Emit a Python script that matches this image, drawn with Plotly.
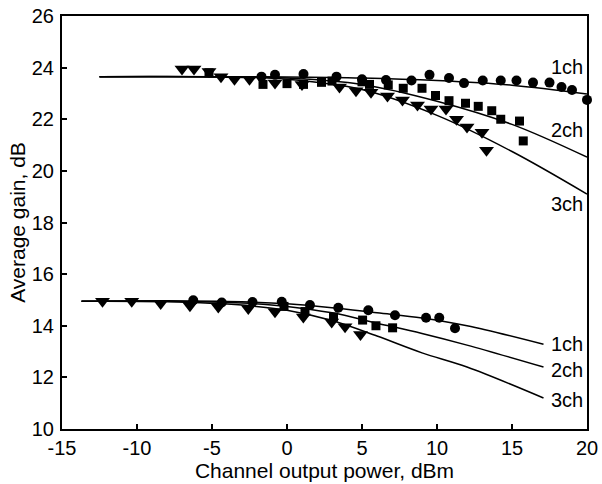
import plotly.graph_objects as go

# ---- tick labels ----
x_tickvals = [-15, -10, -5, 0, 5, 10, 15, 20]
x_ticktext = ["-15", "-10", "-5", "0", "5", "10", "15", "20"]
y_tickvals = [10, 12, 14, 16, 18, 20, 22, 24, 26]
y_ticktext = ["10", "12", "14", "16", "18", "20", "22", "24", "26"]

# ---- fitted curves (upper group) ----
curve_up_x = [-12.5, -5, 0, 5, 10, 15, 20]
curve_up_1ch = [23.65, 23.65, 23.64, 23.6, 23.5, 23.32, 22.98]
curve_up_2ch = [23.65, 23.65, 23.6, 23.35, 22.7, 21.8, 20.53]
curve_up_3ch = [23.65, 23.64, 23.55, 23.15, 22.15, 20.75, 19.1]

# ---- fitted curves (lower group) ----
curve_lo_x = [-13.7, -8, -3, 0, 3, 6, 9, 12, 17.1]
curve_lo_1ch = [14.95, 14.97, 14.93, 14.85, 14.7, 14.5, 14.3, 14.0, 13.28]
curve_lo_2ch = [14.95, 14.95, 14.88, 14.75, 14.5, 14.1, 13.7, 13.25, 12.4]
curve_lo_3ch = [14.95, 14.93, 14.8, 14.6, 14.2, 13.6, 12.95, 12.4, 11.2]

# ---- measured points (upper group) ----
up_circ_x = [-1.7, -0.8, 1.1, 3.3, 5.0, 6.6, 8.3, 9.5, 10.8, 11.8, 13.05, 14.25, 15.3, 16.4, 17.5, 18.3, 19.0, 20.0]
up_circ_y = [23.65, 23.72, 23.75, 23.65, 23.55, 23.52, 23.5, 23.72, 23.6, 23.4, 23.5, 23.5, 23.5, 23.42, 23.42, 23.25, 23.13, 22.75]
up_sq_x = [-5.2, -1.6, 0.0, 1.1, 2.3, 3.0, 5.0, 5.5, 6.75, 7.75, 9.0, 9.9, 10.8, 11.9, 12.75, 13.65, 14.25, 15.5, 15.75]
up_sq_y = [23.8, 23.35, 23.38, 23.35, 23.43, 23.48, 23.45, 23.35, 23.33, 23.2, 23.2, 22.92, 22.72, 22.62, 22.5, 22.33, 22.0, 21.93, 21.16]
up_tri_x = [-7.0, -6.2, -5.2, -4.4, -3.5, -2.5, -0.8, 1.0, 3.5, 4.6, 5.6, 6.7, 7.7, 8.7, 9.6, 10.6, 11.3, 12.0, 13.0, 13.3]
up_tri_y = [23.95, 23.95, 23.85, 23.65, 23.55, 23.55, 23.4, 23.35, 23.25, 23.1, 23.05, 22.9, 22.75, 22.55, 22.4, 22.4, 22.0, 21.7, 21.5, 20.8]

# ---- measured points (lower group) ----
lo_circ_x = [-6.25, -4.35, -2.3, -0.35, 1.53, 3.42, 5.42, 7.2, 9.27, 10.15, 11.2]
lo_circ_y = [14.99, 14.9, 14.92, 14.93, 14.8, 14.7, 14.6, 14.41, 14.31, 14.31, 13.9]
lo_sq_x = [-0.2, 1.2, 3.1, 5.04, 5.93, 7.04]
lo_sq_y = [14.75, 14.55, 14.34, 14.22, 14.0, 13.92]
lo_tri_x = [-12.3, -10.35, -8.42, -6.47, -4.58, -2.58, -0.8, 1.09, 2.98, 3.87, 4.9]
lo_tri_y = [14.95, 14.95, 14.86, 14.77, 14.73, 14.67, 14.54, 14.34, 14.15, 13.96, 13.66]

# ---- curve labels ----
label_text = ["1ch", "2ch", "3ch", "1ch", "2ch", "3ch"]
label_x = [18.67, 18.67, 18.67, 18.67, 18.67, 18.67]
label_y = [24.03, 21.58, 18.71, 13.29, 12.28, 11.12]

FONT = "Liberation Sans, Arial, sans-serif"

fig = go.Figure()

for cy in [curve_up_1ch, curve_up_2ch, curve_up_3ch]:
    fig.add_trace(go.Scatter(x=curve_up_x, y=cy, mode="lines",
                             line=dict(color="black", width=1.5, shape="spline", smoothing=1.0),
                             showlegend=False, hoverinfo="skip"))
for cy in [curve_lo_1ch, curve_lo_2ch, curve_lo_3ch]:
    fig.add_trace(go.Scatter(x=curve_lo_x, y=cy, mode="lines",
                             line=dict(color="black", width=1.5, shape="spline", smoothing=1.0),
                             showlegend=False, hoverinfo="skip"))

def pts(x, y, symbol, size):
    fig.add_trace(go.Scatter(x=x, y=y, mode="markers",
                             marker=dict(symbol=symbol, size=size, color="black",
                                         line=dict(width=0)),
                             showlegend=False, cliponaxis=False))

pts(up_tri_x, up_tri_y, "triangle-down", 13)
pts(up_sq_x, up_sq_y, "square", 9)
pts(up_circ_x, up_circ_y, "circle", 10)
pts(lo_tri_x, lo_tri_y, "triangle-down", 13)
pts(lo_sq_x, lo_sq_y, "square", 9)
pts(lo_circ_x, lo_circ_y, "circle", 10)

for t, x, y in zip(label_text, label_x, label_y):
    fig.add_annotation(x=x, y=y, xref="x", yref="y", text=t, showarrow=False,
                       font=dict(family=FONT, size=20, color="black"))

axis_common = dict(showgrid=False, zeroline=False, showline=True, linecolor="black",
                   linewidth=2, mirror=True, ticks="inside", ticklen=5, tickwidth=1.5,
                   tickcolor="black", automargin=False, ticklabeloverflow="allow",
                   tickfont=dict(family=FONT, size=20, color="black"))

fig.update_xaxes(range=[-15, 20], tickvals=x_tickvals, ticktext=x_ticktext,
                 title=dict(text="Channel output power, dBm",
                            font=dict(family=FONT, size=21, color="black"), standoff=2),
                 ticklabelstandoff=0,
                 **axis_common)
fig.update_yaxes(range=[10, 26], tickvals=y_tickvals, ticktext=y_ticktext,
                 title=dict(text="Average gain, dB",
                            font=dict(family=FONT, size=21, color="black"), standoff=0),
                 ticklabelstandoff=2,
                 **axis_common)

fig.update_layout(width=602, height=484, margin=dict(l=62, r=15, t=16, b=55),
                  plot_bgcolor="white", paper_bgcolor="white",
                  font=dict(family=FONT, color="black"))

fig.write_html("out.html", config={"displayModeBar": False},
               post_script="document.body.style.margin='0';document.body.style.overflow='hidden';")
